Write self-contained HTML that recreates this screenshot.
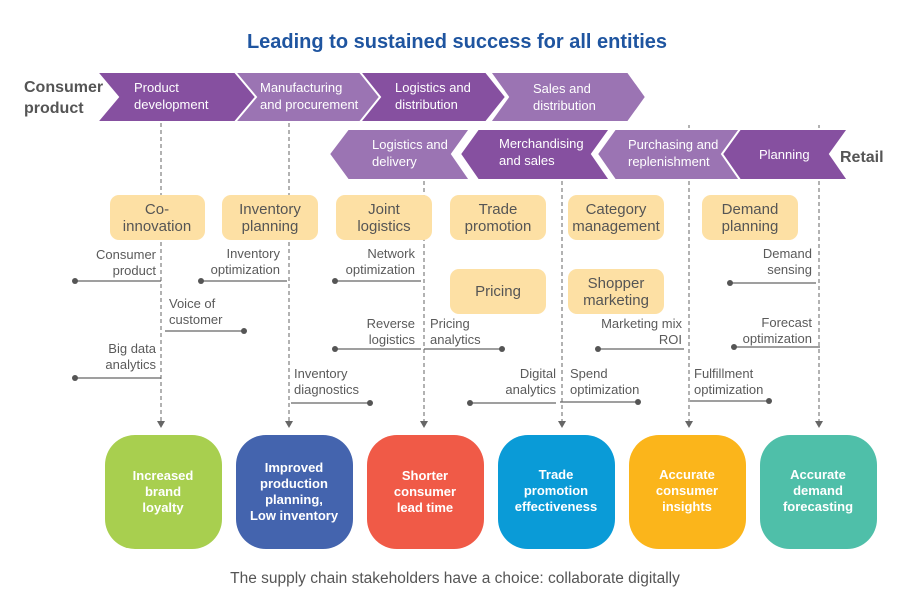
<!DOCTYPE html>
<html><head><meta charset="utf-8"><style>
body{margin:0;background:#fff;}
svg{display:block;font-family:"Liberation Sans",sans-serif;}
.a{font-size:13px;fill:#5a5a5a;}
.y{font-size:15px;fill:#555;}
.w{font-size:13px;fill:#fff;font-weight:600;}
.c{font-size:13px;fill:#fff;}
</style></head><body>
<svg width="910" height="609" viewBox="0 0 910 609">
<text x="457" y="48" text-anchor="middle" font-size="20" font-weight="bold" fill="#1f55a0">Leading to sustained success for all entities</text>
<text x="24" y="92" font-size="16" font-weight="bold" fill="#555">Consumer</text>
<text x="24" y="113" font-size="16" font-weight="bold" fill="#555">product</text>
<text x="840" y="162" font-size="16" font-weight="bold" fill="#555">Retail</text>
<!-- dashed lines -->
<g stroke="#666" stroke-width="1" stroke-dasharray="4,3">
<line x1="161" y1="123" x2="161" y2="422"/>
<line x1="289" y1="123" x2="289" y2="422"/>
<line x1="424" y1="181" x2="424" y2="422"/>
<line x1="562" y1="181" x2="562" y2="422"/>
<line x1="689" y1="125" x2="689" y2="422"/>
<line x1="819" y1="125" x2="819" y2="422"/>
</g>
<!-- top chevrons -->
<g stroke="#fff" stroke-width="2">
<polygon points="490,72 628,72 646,97 628,122 490,122 508,97" fill="#9b74b3"/>
<polygon points="357,72 486,72 506,97 486,122 357,122 377,97" fill="#8650a0"/>
<polygon points="232,72 360,72 380,97 360,122 232,122 252,97" fill="#9b74b3"/>
<polygon points="97,72 235,72 256,97 235,122 97,122 118,97" fill="#8650a0"/>
<!-- bottom chevrons -->
<polygon points="348,129 470,129 452,154 470,180 348,180 329,154" fill="#9b74b3"/>
<polygon points="478,129 610,129 592,154 610,180 478,180 460,154" fill="#8650a0"/>
<polygon points="615,129 746,129 728,154 746,180 615,180 597,154" fill="#9b74b3"/>
<polygon points="740,129 848,129 830,154 848,180 740,180 722,154" fill="#8650a0"/>
</g>
<g class="c">
<text x="134" y="92">Product</text><text x="134" y="109">development</text>
<text x="260" y="92">Manufacturing</text><text x="260" y="109">and procurement</text>
<text x="395" y="92">Logistics and</text><text x="395" y="109">distribution</text>
<text x="533" y="93">Sales and</text><text x="533" y="110">distribution</text>
<text x="372" y="149">Logistics and</text><text x="372" y="166">delivery</text>
<text x="499" y="148">Merchandising</text><text x="499" y="165">and sales</text>
<text x="628" y="149">Purchasing and</text><text x="628" y="166">replenishment</text>
<text x="759" y="159">Planning</text>
</g>
<g fill="#666">
<polygon points="157,421 165,421 161,428"/><polygon points="285,421 293,421 289,428"/>
<polygon points="420,421 428,421 424,428"/><polygon points="558,421 566,421 562,428"/>
<polygon points="685,421 693,421 689,428"/><polygon points="815,421 823,421 819,428"/>
</g>
<!-- yellow boxes -->
<g fill="#fde0a4">
<rect x="110" y="195" width="95" height="45" rx="9"/>
<rect x="222" y="195" width="96" height="45" rx="9"/>
<rect x="336" y="195" width="96" height="45" rx="9"/>
<rect x="450" y="195" width="96" height="45" rx="9"/>
<rect x="568" y="195" width="96" height="45" rx="9"/>
<rect x="702" y="195" width="96" height="45" rx="9"/>
<rect x="450" y="269" width="96" height="45" rx="9"/>
<rect x="568" y="269" width="96" height="45" rx="9"/>
</g>
<g class="y" text-anchor="middle">
<text x="157" y="214">Co-</text><text x="157" y="231">innovation</text>
<text x="270" y="214">Inventory</text><text x="270" y="231">planning</text>
<text x="384" y="214">Joint</text><text x="384" y="231">logistics</text>
<text x="498" y="214">Trade</text><text x="498" y="231">promotion</text>
<text x="616" y="214">Category</text><text x="616" y="231">management</text>
<text x="750" y="214">Demand</text><text x="750" y="231">planning</text>
<text x="498" y="296">Pricing</text>
<text x="616" y="288">Shopper</text><text x="616" y="305">marketing</text>
</g>
<!-- annotations -->
<g stroke="#666" stroke-width="1.3">
<line x1="75" y1="281" x2="161" y2="281"/><line x1="165" y1="331" x2="244" y2="331"/>
<line x1="75" y1="378" x2="161" y2="378"/><line x1="201" y1="281" x2="287" y2="281"/>
<line x1="291" y1="403" x2="370" y2="403"/><line x1="335" y1="281" x2="421" y2="281"/>
<line x1="335" y1="349" x2="421" y2="349"/><line x1="424" y1="349" x2="502" y2="349"/>
<line x1="470" y1="403" x2="556" y2="403"/><line x1="560" y1="402" x2="638" y2="402"/>
<line x1="598" y1="349" x2="684" y2="349"/><line x1="690" y1="401" x2="769" y2="401"/>
<line x1="730" y1="283" x2="816" y2="283"/><line x1="734" y1="347" x2="820" y2="347"/>
</g>
<g fill="#555">
<circle cx="75" cy="281" r="3"/><circle cx="244" cy="331" r="3"/><circle cx="75" cy="378" r="3"/>
<circle cx="201" cy="281" r="3"/><circle cx="370" cy="403" r="3"/><circle cx="335" cy="281" r="3"/>
<circle cx="335" cy="349" r="3"/><circle cx="502" cy="349" r="3"/><circle cx="470" cy="403" r="3"/>
<circle cx="638" cy="402" r="3"/><circle cx="598" cy="349" r="3"/><circle cx="769" cy="401" r="3"/>
<circle cx="730" cy="283" r="3"/><circle cx="734" cy="347" r="3"/>
</g>
<g class="a" text-anchor="end">
<text x="156" y="259">Consumer</text><text x="156" y="275">product</text>
<text x="156" y="353">Big data</text><text x="156" y="369">analytics</text>
<text x="280" y="258">Inventory</text><text x="280" y="274">optimization</text>
<text x="415" y="258">Network</text><text x="415" y="274">optimization</text>
<text x="415" y="328">Reverse</text><text x="415" y="344">logistics</text>
<text x="556" y="378">Digital</text><text x="556" y="394">analytics</text>
<text x="682" y="328">Marketing mix</text><text x="682" y="344">ROI</text>
<text x="812" y="258">Demand</text><text x="812" y="274">sensing</text>
<text x="812" y="327">Forecast</text><text x="812" y="343">optimization</text>
</g>
<g class="a">
<text x="169" y="308">Voice of</text><text x="169" y="324">customer</text>
<text x="294" y="378">Inventory</text><text x="294" y="394">diagnostics</text>
<text x="430" y="328">Pricing</text><text x="430" y="344">analytics</text>
<text x="570" y="378">Spend</text><text x="570" y="394">optimization</text>
<text x="694" y="378">Fulfillment</text><text x="694" y="394">optimization</text>
</g>
<!-- outcome boxes -->
<rect x="105" y="435" width="117" height="114" rx="30" fill="#a8cf4f"/>
<rect x="236" y="435" width="117" height="114" rx="30" fill="#4464ae"/>
<rect x="367" y="435" width="117" height="114" rx="30" fill="#f05a47"/>
<rect x="498" y="435" width="117" height="114" rx="30" fill="#0a9bd7"/>
<rect x="629" y="435" width="117" height="114" rx="30" fill="#fbb51b"/>
<rect x="760" y="435" width="117" height="114" rx="30" fill="#4fbfa9"/>
<g class="w" text-anchor="middle">
<text x="163" y="480">Increased</text><text x="163" y="496">brand</text><text x="163" y="512">loyalty</text>
<text x="294" y="472">Improved</text><text x="294" y="488">production</text><text x="294" y="504">planning,</text><text x="294" y="520">Low inventory</text>
<text x="425" y="480">Shorter</text><text x="425" y="496">consumer</text><text x="425" y="512">lead time</text>
<text x="556" y="479">Trade</text><text x="556" y="495">promotion</text><text x="556" y="511">effectiveness</text>
<text x="687" y="479">Accurate</text><text x="687" y="495">consumer</text><text x="687" y="511">insights</text>
<text x="818" y="479">Accurate</text><text x="818" y="495">demand</text><text x="818" y="511">forecasting</text>
</g>
<text x="455" y="583" text-anchor="middle" font-size="15.5" fill="#555">The supply chain stakeholders have a choice: collaborate digitally</text>
</svg>
</body></html>
